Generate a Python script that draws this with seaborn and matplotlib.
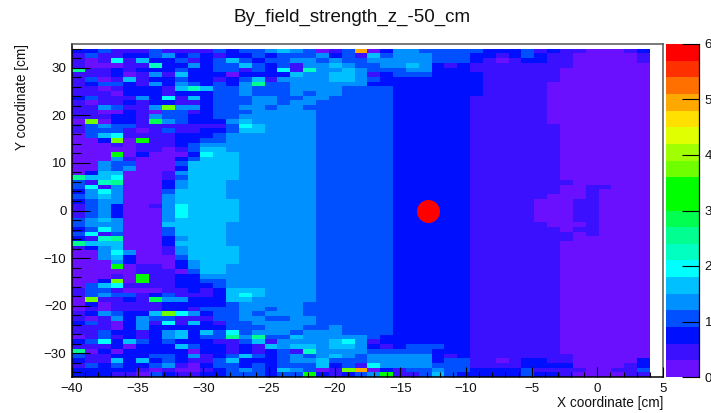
import numpy as np
import pandas as pd
import matplotlib
matplotlib.use("Agg")
import matplotlib.pyplot as plt
from matplotlib.colors import ListedColormap, BoundaryNorm
import seaborn as sns

# Colour-band index per cell (0-9, a-j), top row first.
LEVEL_CHARS = "0123456789abcdefghij"
rows_top = [
    "2231113111132" "334543013g024433" "3332223121100012",
    "1311223423212" "2323334231534443" "3322123211000001",
    "1016152231235" "3233443433444443" "3321012211000001",
    "1000117224233" "5323144543344542" "1211111111000000",
    "8112122232233" "1326174454333442" "2211111110000000",
    "1112014152220" "2222544554123332" "2221111110000000",
    "1301512232212" "3514444554322222" "2221111110000000",
    "1233214243232" "4833444444222222" "2221111100000000",
    "1101222157533" "4333444433332222" "2221111100000000",
    "1110222122233" "4333434433332222" "2221111100000000",
    "2311142615233" "3443344333332222" "2211111100000000",
    "1011212211233" "3443443333332222" "2211111100000000",
    "1143114c44233" "4434433333332222" "2211111100000000",
    "1100210331233" "3444443333332222" "2211111100000000",
    "1112214332233" "4444443333332222" "2211111100000000",
    "0c02219432224" "5444443333332222" "2211111100000000",
    "1343311111113" "6544443333332222" "2211111110000000",
    "1333101311223" "5544443333332222" "2211111110000000",
    "0356111122234" "4444443333332222" "2211111110000000",
    "002c0a1122334" "4444443333332222" "2211111110000000",
    "0001011123444" "4444443333332222" "2211111110000000",
    "0000011013554" "4444443333332222" "2211111110000000",
    "000a020002655" "4444443333332222" "2211111110000000",
]
rows_mid = [
    "0004100023555" "4444443333332222" "2211111110000000",
    "0043300035555" "4444443333332222" "2211111110000000",
    "0043400025555" "4444443333332222" "2211111110000000",
    "0255000145555" "4444443333332222" "2211111110000000",
    "8556000135555" "4444443333332222" "2211111110000000",
    "3178000245554" "4444443333332222" "2211111111000000",
    "3614000245554" "4444443333332222" "2211111110011000",
    "2464000355554" "4444443333332222" "2211111110010000",
    "3454000455554" "4444443333332222" "2211111100010000",
    "2344000455555" "4444443333332222" "2211111000110000",
    "1342001465555" "4444443333332222" "2211111000110000",
    "1342000465555" "4444443333332222" "2211111000110000",
    "1342000465555" "4444443333332222" "2211111000110000",
    "3454000455555" "4444443333332222" "2211111000110000",
    "3444000555554" "4444443333332222" "2211111100010000",
    "2364000355554" "4444443333332222" "2211111110110000",
    "3613000355554" "4444443333332222" "2211111111010000",
    "2178000245554" "4444443333332222" "2211111111000000",
    "8555000255554" "4444443333332222" "2211111110000000",
    "1245000145555" "4444443333332222" "2211111110000000",
    "0046400145555" "4444443333332222" "2211111110000000",
    "0045200035555" "4444443333332222" "2211111110000000",
    "0004200024555" "4444443333332222" "2211111110000000",
]
rows_bottom = [
    "000a011024554" "4444443333332222" "2211111110000000",
    "0000011103554" "4444443333332222" "2211111110000000",
    "00010a1122444" "4444443333332222" "2211111110000000",
    "002c0a1122334" "4444443333332222" "2211111110000000",
    "0356111122234" "4444443333332222" "2211111110000000",
    "1331000112125" "5544443333332222" "2211111110000000",
    "1343312311125" "6544443333332222" "2211111110000000",
    "0c11219442225" "5444443333332222" "2211111110000000",
    "0201111222223" "4444433333332222" "2211111110000000",
    "0101111221333" "4434433333332222" "2211111110000000",
    "1243225c64233" "4344433333332222" "2211111110000000",
    "1014243311133" "4433443333332222" "2211111110000000",
    "2310241615213" "3444443333332222" "2211111110000000",
    "1110242222223" "3344433433332222" "2211111110000000",
    "1132212452536" "3444344433332222" "2211111110000000",
    "0131212452338" "4833544444322222" "2211111110000000",
    "2362532322211" "3514444564122222" "2211111110000000",
    "1112022253221" "2154554554212333" "2211111110000000",
    "8020222220221" "2123174444333332" "2211111110000000",
    "3112223324123" "5323434543444442" "1211111111000000",
    "2115252321135" "2223445333444442" "3311012211000002",
    "1323223410233" "2323335231644443" "3311112222000012",
    "2222210100123" "43254301cg021334" "3322223111100113",
    "2221103211223" "33233a21234a1135" "3222223221000011",
]
band_colors = ["#6a10ff", "#3a10ff", "#0010ff", "#0050ff", "#0090ff", "#00c0ff", "#00ffff",
               "#00ffc0", "#00ff90", "#00ff50", "#00ff00", "#00ff00", "#70ff00", "#a0ff00",
               "#e0ff00", "#ffe000", "#ffa800", "#ff7000", "#ff3000", "#ff0000"]
x_range = (-40, 4)
y_range = (-35, 34)
x_limits = (-40, 5)
y_limits = (-35, 35)
x_major = [-40, -35, -30, -25, -20, -15, -10, -5, 0, 5]
y_major = [-30, -20, -10, 0, 10, 20, 30]
cbar_ticks = [0, 1, 2, 3, 4, 5, 6]
cbar_edges = np.linspace(0, 6, 21)
marker_xy = (-12.9, 0.0)
title = "By_field_strength_z_-50_cm"
x_label = "X coordinate [cm]"
y_label = "Y coordinate [cm]"

sns.set_theme(style="white")
plt.rcParams["font.family"] = ["Liberation Sans", "DejaVu Sans"]
plt.rcParams["axes.axisbelow"] = False

W, H = 711, 413
rows = rows_top + rows_mid + rows_bottom
levels = np.array([[LEVEL_CHARS.index(ch) for ch in r] for r in rows])
values = (levels + 0.5) * 0.3
ny, nx = values.shape
field = pd.DataFrame(values[::-1])

fig = plt.figure(figsize=(W / 100, H / 100), dpi=100, facecolor="white")
ax = fig.add_axes([72 / W, 1 - 377 / H, (663 - 72) / W, (377 - 44) / H])
cax = fig.add_axes([666 / W, 1 - 377 / H, (699 - 666) / W, (377 - 44) / H])
cmap = ListedColormap(band_colors)
norm = BoundaryNorm(cbar_edges, cmap.N)
sns.heatmap(field, ax=ax, cbar_ax=cax, cmap=cmap, norm=norm, xticklabels=False, yticklabels=False,
            cbar_kws={"ticks": cbar_ticks}, linewidths=0)

sx = nx / (x_range[1] - x_range[0])
sy = ny / (y_range[1] - y_range[0])
to_cx = lambda x: (np.asarray(x, dtype=float) - x_range[0]) * sx
to_cy = lambda y: (np.asarray(y, dtype=float) - y_range[0]) * sy
ax.set_xlim(to_cx(x_limits[0]), to_cx(x_limits[1]))
ax.set_ylim(to_cy(y_limits[0]), to_cy(y_limits[1]))
ax.set_axisbelow(False)

PX = 0.72
FS = 9.6
ax.set_xticks(to_cx(x_major))
ax.set_xticklabels([str(v).replace("-", "\u2212") for v in x_major], fontsize=FS, color="#111111")
ax.set_yticks(to_cy(y_major))
ax.set_yticklabels([str(v).replace("-", "\u2212") for v in y_major], fontsize=FS, color="#111111")
ax.set_xticks(to_cx(np.arange(-40, 6, 1)), minor=True)
ax.set_yticks(to_cy(np.arange(-34, 35, 2)), minor=True)
ax.tick_params(axis="x", which="major", direction="in", length=10 * PX, width=0.8, color="black", pad=4, bottom=True)
ax.tick_params(axis="x", which="minor", direction="in", length=5 * PX, width=0.8, color="black", bottom=True)
ax.tick_params(axis="y", which="major", direction="in", length=18 * PX, width=0.8, color="black", pad=4, left=True)
ax.tick_params(axis="y", which="minor", direction="in", length=9 * PX, width=0.8, color="black", left=True)
for side, col in {"left": "black", "bottom": "black", "top": "#555555", "right": "#555555"}.items():
    ax.spines[side].set_visible(True)
    ax.spines[side].set_color(col)
    ax.spines[side].set_linewidth(1.1)

ax.plot([to_cx(marker_xy[0])], [to_cy(marker_xy[1])], "o", color="#ff0000", markersize=23 * PX, markeredgewidth=0)

ax.set_xlabel(x_label, loc="right", fontsize=9.8, color="#111111")
ax.xaxis.set_label_coords(1.0, -0.056)
ax.set_ylabel(y_label, loc="top", fontsize=9.8, color="#111111")
ax.yaxis.set_label_coords(-0.073, 1.0)
fig.text(352 / W, 1 - 17.5 / H, title, ha="center", va="center", fontsize=13.5, color="#111111")

cax.yaxis.tick_right()
cax.minorticks_off()
cax.set_yticks(cbar_ticks)
cax.set_yticklabels([str(v) for v in cbar_ticks], fontsize=FS, color="#111111")
cax.tick_params(axis="y", which="major", direction="in", length=17 * PX, width=0.8, color="black", pad=4, right=True, left=False)
cax.tick_params(axis="both", which="minor", length=0)
cax.set_axisbelow(False)
for side in cax.spines:
    cax.spines[side].set_visible(side == "right")
cax.spines["right"].set_color("black")
cax.spines["right"].set_linewidth(0.9)

fig.savefig("out.png", dpi=100, facecolor="white")
